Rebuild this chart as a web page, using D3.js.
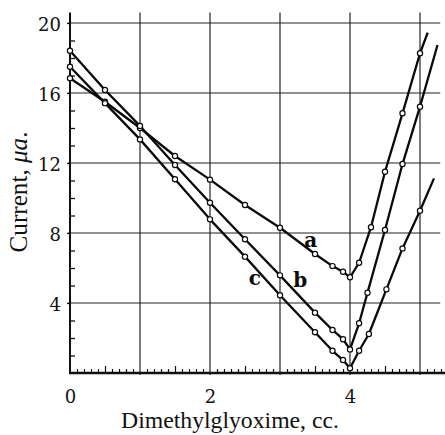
<!DOCTYPE html>
<html><head><meta charset="utf-8">
<script src="https://cdn.jsdelivr.net/npm/d3@7"></script>
<style>body{margin:0;background:#fff}svg{display:block}</style>
</head><body>
<script>
// ---- data ----
const volumesDesc = [0, 0.5, 1, 1.5, 2, 2.5, 3, 3.5, 3.75, 3.9, 4.0];
const currentADesc = [16.84, 15.5, 14.0, 12.4, 11.05, 9.6, 8.3, 6.8, 6.11, 5.79, 5.47];
const currentBDesc = [18.42, 16.17, 14.12, 11.89, 9.73, 7.64, 5.58, 3.45, 2.46, 1.93, 1.35];
const currentCDesc = [17.5, 15.42, 13.35, 11.07, 8.78, 6.65, 4.44, 2.33, 1.27, 0.74, 0.27];

const volumesARise = [4.13, 4.3, 4.5, 4.75, 5.0];
const currentARise = [6.3, 8.33, 11.5, 14.84, 18.27];
const volumesBRise = [4.13, 4.25, 4.5, 4.75, 5.0];
const currentBRise = [2.84, 4.59, 8.17, 11.94, 15.22];
const volumesCRise = [4.13, 4.27, 4.52, 4.75, 5.0];
const currentCRise = [1.27, 2.23, 4.78, 7.12, 9.27];

// extrapolated ends of the drawn lines (no marker)
const lineEndA = [5.11, 19.45];
const lineEndB = [5.25, 18.74];
const lineEndC = [5.2, 11.12];

const seriesLabels = ["a", "b", "c"];
const labelPos = [[3.44, 7.2], [3.29, 4.93], [2.64, 5.03]];

const yTickValues = [4, 8, 12, 16, 20];
const yTickLabels = ["4", "8", "12", "16", "20"];
const xTickValues = [0, 2, 4];
const xTickLabels = ["0", "2", "4"];
const xTitle = "Dimethylglyoxime, cc.";

// ---- drawing ----
const W = 445, H = 435;
const svg = d3.select("body").append("svg").attr("width", W).attr("height", H);
const x = d3.scaleLinear().domain([0, 5]).range([70, 420]);
const y = d3.scaleLinear().domain([0, 20]).range([373, 23]);
const font = "'DejaVu Serif', 'Liberation Serif', serif";
const titleFont = "'Liberation Serif', 'DejaVu Serif', serif";

// grid
const grid = svg.append("g").attr("stroke", "#222").attr("stroke-width", 1.2);
[4, 8, 12, 16, 20].forEach(v => grid.append("line")
  .attr("x1", x(0) - 2).attr("x2", x(5.29)).attr("y1", y(v)).attr("y2", y(v)));
[1, 2, 3, 4, 5].forEach(v => grid.append("line")
  .attr("x1", x(v)).attr("x2", x(v)).attr("y1", y(20.6)).attr("y2", y(0) + 2));

// y axis: minor ticks inside
const yMinor = d3.range(1, 21).filter(v => v % 4 !== 0);
svg.append("g").attr("transform", `translate(${x(0)},0)`)
  .call(d3.axisLeft(y).tickValues(yMinor).tickSize(-5).tickFormat(""))
  .call(g => g.select(".domain").remove())
  .selectAll("line").attr("stroke", "#111").attr("stroke-width", 1.3);
// y labels
svg.append("g").attr("transform", `translate(${x(0)},0)`)
  .call(d3.axisLeft(y).tickValues(yTickValues).tickSize(3).tickPadding(6)
    .tickFormat((d, i) => yTickLabels[i]))
  .call(g => g.select(".domain").remove())
  .call(g => g.selectAll("line").attr("stroke", "#111").attr("stroke-width", 1.2))
  .call(g => g.selectAll("text").attr("font-family", font).attr("font-size", 18).attr("fill", "#111").attr("dy", "0.42em"));
svg.append("line").attr("x1", x(0)).attr("x2", x(0)).attr("y1", y(20.6)).attr("y2", y(0) + 1)
  .attr("stroke", "#111").attr("stroke-width", 2);

// x axis minor ticks
const xMinor = d3.range(1, 54).map(i => i / 10).filter(v => Math.abs(v - Math.round(v)) > 1e-6);
svg.append("g").attr("transform", `translate(0,${y(0)})`)
  .call(d3.axisBottom(x).tickValues(xMinor)
    .tickSize(0).tickFormat(""))
  .call(g => g.select(".domain").remove())
  .call(g => g.selectAll(".tick line")
    .attr("y2", d => Math.abs(d * 2 - Math.round(d * 2)) < 1e-6 ? -7 : -4)
    .attr("stroke", "#111").attr("stroke-width", 1.2));
svg.append("line").attr("x1", x(0) - 1).attr("x2", W).attr("y1", y(0)).attr("y2", y(0))
  .attr("stroke", "#111").attr("stroke-width", 2.4);
// x labels
svg.append("g").attr("transform", `translate(0,${y(0)})`)
  .call(d3.axisBottom(x).tickValues(xTickValues).tickSize(0).tickPadding(17)
    .tickFormat((d, i) => xTickLabels[i]))
  .call(g => g.select(".domain").remove())
  .call(g => g.selectAll("text").attr("font-family", font).attr("font-size", 18).attr("fill", "#111"));

// titles, sized to the reference's text extents
function fit(sel, target) {
  const fs = +sel.attr("font-size");
  const len = sel.node().getComputedTextLength();
  if (len > 0) sel.attr("font-size", (fs * target / len).toFixed(2));
}
const xt = svg.append("text").attr("x", 230).attr("y", 428).attr("text-anchor", "middle")
  .attr("font-family", titleFont).attr("font-size", 20).attr("fill", "#111").text(xTitle);
fit(xt, 218);
const yt = svg.append("text").attr("transform", "translate(27,192) rotate(-90)")
  .attr("text-anchor", "middle").attr("font-family", titleFont).attr("font-size", 19).attr("fill", "#111");
yt.append("tspan").text("Current, ");
yt.append("tspan").attr("font-style", "italic").text("μa");
yt.append("tspan").text(".");
fit(yt, 121);

// series
function build(vd, cd, vr, cr, end) {
  const pts = vd.map((v, i) => [v, cd[i]]);
  const rise = vr.map((v, i) => [v, cr[i]]);
  return { markers: pts.concat(rise), path: pts.concat(rise, [end]) };
}
const series = [
  build(volumesDesc, currentADesc, volumesARise, currentARise, lineEndA),
  build(volumesDesc, currentBDesc, volumesBRise, currentBRise, lineEndB),
  build(volumesDesc, currentCDesc, volumesCRise, currentCRise, lineEndC)
];
const line = d3.line().x(d => x(d[0])).y(d => y(d[1]));
series.forEach(s => svg.append("path").attr("d", line(s.path)).attr("fill", "none")
  .attr("stroke", "#0a0a0a").attr("stroke-width", 2.3).attr("stroke-linejoin", "round"));
series.forEach(s => svg.append("g").selectAll("circle").data(s.markers).join("circle")
  .attr("cx", d => x(d[0])).attr("cy", d => y(d[1])).attr("r", 2.6)
  .attr("fill", "#fff").attr("stroke", "#0a0a0a").attr("stroke-width", 1.2));

// series letters
svg.append("g").selectAll("text").data(seriesLabels).join("text")
  .attr("x", (d, i) => x(labelPos[i][0])).attr("y", (d, i) => y(labelPos[i][1]))
  .attr("text-anchor", "middle").attr("font-family", font).attr("font-weight", "bold")
  .attr("font-size", 20).attr("fill", "#0a0a0a").text(d => d);
</script>
</body></html>
